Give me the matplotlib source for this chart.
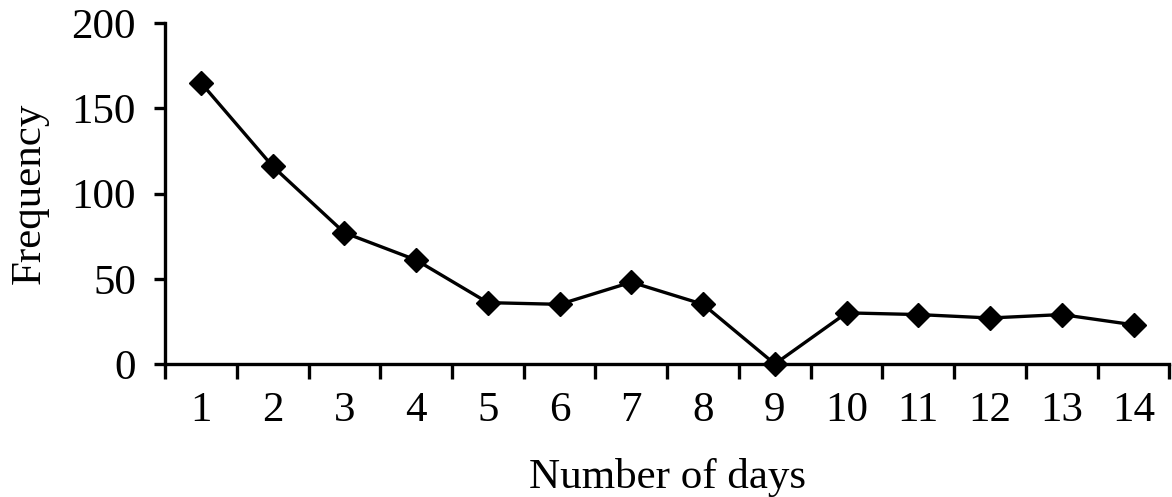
import matplotlib
matplotlib.use("Agg")
import matplotlib.pyplot as plt

### data ###
days = [1, 2, 3, 4, 5, 6, 7, 8, 9, 10, 11, 12, 13, 14]
frequency = [165, 116, 77, 61, 36, 35, 48, 35, 0, 30, 29, 27, 29, 23]
y_ticks = [0, 50, 100, 150, 200]

plt.rcParams['font.family'] = ['Liberation Serif', 'DejaVu Serif']

fig = plt.figure(figsize=(11.72, 4.97), dpi=100)
ax = fig.add_axes([0.1408, 0.2676, 0.857, 0.686])

ax.plot(days, frequency, '-', color='black', lw=2.4,
        marker='D', ms=12.5, mfc='black', mec='black', clip_on=False, zorder=3)

### axes look: category style x axis, ticks between categories ###
ax.set_xlim(0.5, 14.5)
ax.set_ylim(0, 200)
ax.set_yticks(y_ticks)
ax.set_xticks(days)
ax.set_xticks([d + 0.5 for d in [0] + days], minor=True)
ax.tick_params(axis='x', which='major', length=0, pad=20, labelsize=31)
ax.tick_params(axis='x', which='minor', length=11, width=2.4, direction='out')
ax.tick_params(axis='y', length=8, width=2.4, direction='out', pad=13, labelsize=31)

for side in ['top', 'right']:
    ax.spines[side].set_visible(False)
for side in ['left', 'bottom']:
    ax.spines[side].set_linewidth(2.4)

ax.set_xlabel('Number of days', fontsize=31, labelpad=20)
ax.set_ylabel('Frequency', fontsize=31, labelpad=16)

plt.savefig('out.png', dpi=100)
